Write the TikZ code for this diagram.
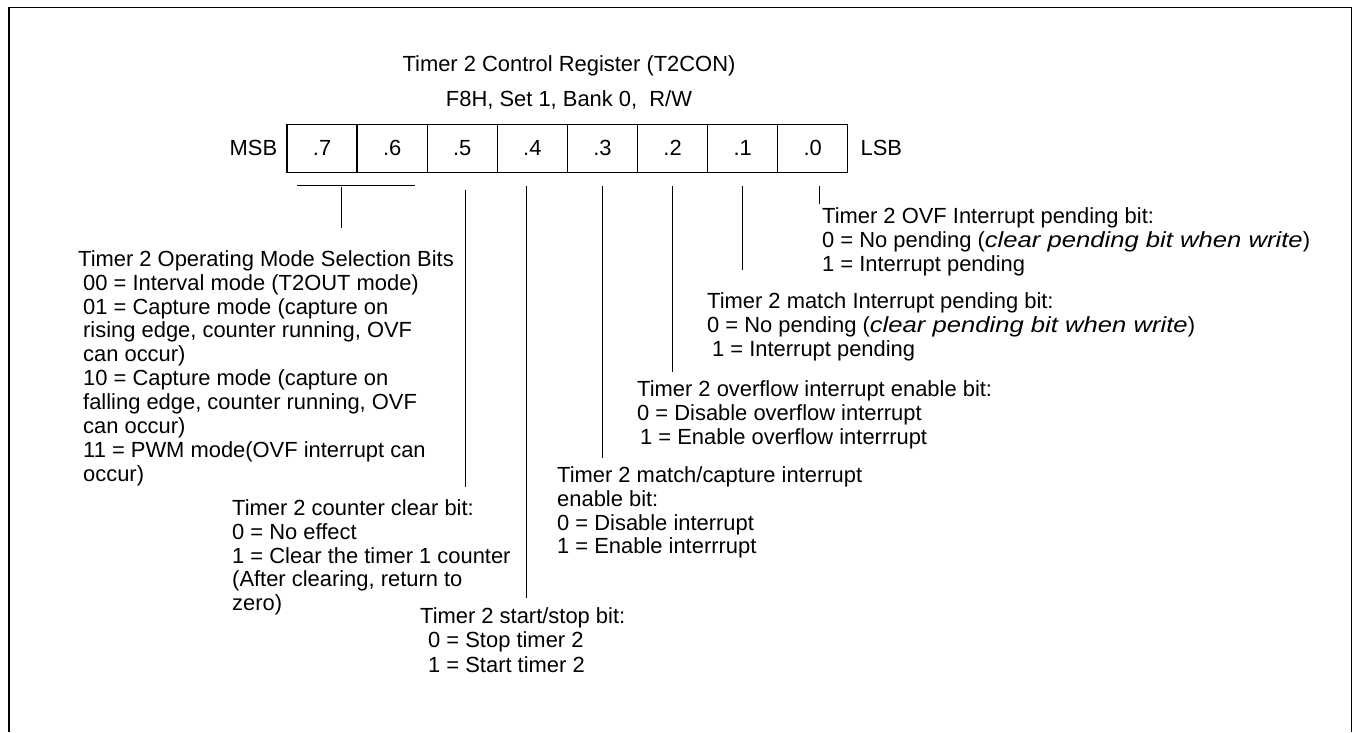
\documentclass[tikz,border=0pt]{standalone}
\usepackage{fontspec}
\setmainfont{Liberation Sans}
\usetikzlibrary{positioning}
\tikzset{bitcell/.style={draw,line width=1.3bp,minimum width=70.1bp,minimum height=48bp,inner sep=0pt,font=\fontsize{22}{24}\selectfont},
  wire/.style={line width=1bp},
  frame/.style={line width=1.7bp},
  label/.style={inner sep=0pt,font=\fontsize{22}{24}\selectfont},
  note/.style={anchor=north west,align=left,inner sep=0pt,font=\fontsize{22}{24}\selectfont}}
\newcommand{\ind}[1]{\hspace*{#1bp}}
\newcommand{\wit}[1]{{\addfontfeatures{FakeStretch=1.17}\itshape #1}}
\begin{document}
\begin{tikzpicture}[x=1bp,y=-1bp]
\useasboundingbox (0,0) rectangle (1355,732);
\draw[frame] (9,732)--(9,7.5)--(1351.5,7.5)--(1351.5,732);
\node[label] (title) at (569,66) {Timer 2 Control Register (T2CON)};
\node[label] (addr) at (569,100) {F8H, Set 1, Bank 0,\ \ R/W};
\foreach \b [count=\k] in {7,6,5,4,3,2,1,0}
  \node[bitcell] (b\b) at ({287+35.05+70.1*(\k-1)},148.3) {.\b};
\node[label,anchor=east,left=9bp of b7] (msb) {MSB};
\node[label,anchor=west,right=12bp of b0] (lsb) {LSB};
% bit descriptions
\node[note] (mode) at (78,250.1) {Timer 2 Operating Mode Selection Bits\\
  \ind{5}00 = Interval mode (T2OUT mode)\\
  \ind{5}01 = Capture mode (capture on\\
  \ind{5}rising edge, counter running, OVF\\
  \ind{5}can occur)\\
  \ind{5}10 = Capture mode (capture on\\
  \ind{5}falling edge, counter running, OVF\\
  \ind{5}can occur)\\
  \ind{5}11 = PWM mode(OVF interrupt can\\
  \ind{5}occur)};
\node[note] (clr) at (232,499.1) {Timer 2 counter clear bit:\\
  0 = No effect\\
  1 = Clear the timer 1 counter\\
  (After clearing, return to\\
  zero)};
\node[note] (run) at (420,607.1) {Timer 2 start/stop bit:\\
  \ind{8}0 = Stop timer 2\\[1bp]
  \ind{8}1 = Start timer 2};
\node[note] (mcie) at (557,466.1) {Timer 2 match/capture interrupt\\
  enable bit:\\
  0 = Disable interrupt\\
  1 = Enable interrrupt};
\node[note] (ovie) at (637,380.1) {Timer 2 overflow interrupt enable bit:\\
  0 = Disable overflow interrupt\\
  \ind{3}1 = Enable overflow interrrupt};
\node[note] (mpnd) at (707,292.1) {Timer 2 match Interrupt pending bit:\\
  0 = No pending (\wit{clear pending bit when write})\\
  \ind{5}1 = Interrupt pending};
\node[note] (opnd) at (822,207.1) {Timer 2 OVF Interrupt pending bit:\\
  0 = No pending (\wit{clear pending bit when write})\\
  1 = Interrupt pending};
% leader lines
\coordinate (m1) at (297,185); \coordinate (m2) at (415,185);
\coordinate (m3) at (341,187); \coordinate (m4) at (341,228);
\coordinate (s5) at (465,190); \coordinate (e5) at (465,487);
\coordinate (s4) at (526,186); \coordinate (e4) at (526,598);
\coordinate (s3) at (602,186); \coordinate (e3) at (602,458);
\coordinate (s2) at (672,186); \coordinate (e2) at (672,372);
\coordinate (s1) at (742,186); \coordinate (e1) at (742,270);
\coordinate (s0) at (819,186); \coordinate (e0) at (819,204);
\draw[wire] (m1)--(m2) (m3)--(m4);
\foreach \b in {5,4,3,2,1,0}
  \draw[wire] (s\b)--(e\b);
\end{tikzpicture}
\end{document}
